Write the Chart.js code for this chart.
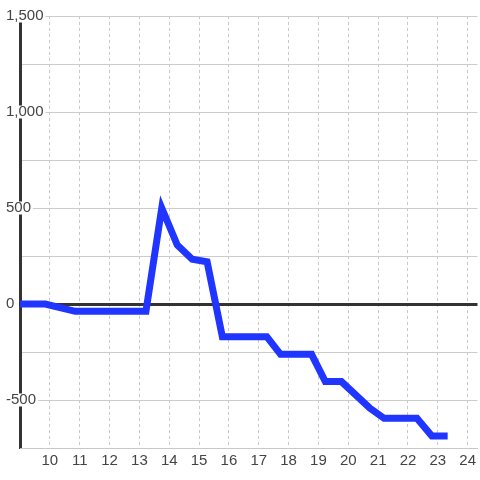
<!DOCTYPE html>
<html>
<head>
<meta charset="utf-8">
<script src="https://cdn.jsdelivr.net/npm/chart.js@4.4.0/dist/chart.umd.min.js"></script>
<style>
  html, body { margin: 0; padding: 0; background: #fff; }
  #wrap { width: 480px; height: 480px; position: relative; }
</style>
</head>
<body>
<div id="wrap"><canvas id="chart"></canvas></div>
<script>
// heures (décimales) et valeurs
const hours = [9, 9.85, 10.85, 13.22, 13.75, 14.27, 14.77, 15.27, 15.78, 17.27, 17.73, 18.77, 19.23, 19.77, 20.73, 21.2, 22.3, 22.8, 23.33];
const values = [0, 0, -38, -38, 500, 307, 233, 220, -170, -170, -262, -262, -404, -404, -543, -595, -595, -688, -688];

const xMin = 9;
const xMax = 24.33;
const yMin = -750;
const yMax = 1500;

const points = hours.map((h, i) => ({ x: h, y: values[i] }));

const fontFamily = '"Liberation Sans", Arial, sans-serif';

new Chart(document.getElementById('chart'), {
    type: 'line',
    data: {
        datasets: [{
            data: points,
            borderColor: '#2035ff',
            borderWidth: 7,
            pointRadius: 0,
            tension: 0,
            fill: false
        }]
    },
    options: {
        responsive: true,
        maintainAspectRatio: false,
        animation: false,
        layout: { padding: { top: 16, left: 6, right: 0, bottom: 6 } },
        plugins: {
            legend: { display: false },
            tooltip: { enabled: false }
        },
        scales: {
            x: {
                type: 'linear',
                min: xMin,
                max: xMax,
                grid: {
                    drawTicks: false,
                    lineWidth: 1,
                    color: (ctx) => (ctx.tick && ctx.tick.value === xMin ? 'rgba(0,0,0,0)' : '#c8c8c8')
                },
                border: { color: '#c8c8c8', width: 1, dash: [3, 3] },
                ticks: {
                    stepSize: 1,
                    includeBounds: false,
                    padding: 4,
                    color: '#444',
                    font: { family: fontFamily, size: 15, lineHeight: 1.2 },
                    maxRotation: 0,
                    autoSkip: false,
                    callback: (v) => (v === xMin ? '' : String(v))
                }
            },
            y: {
                min: yMin,
                max: yMax,
                afterFit: (scale) => { scale.width = 14; },
                grid: {
                    drawTicks: false,
                    color: (ctx) => (ctx.tick && ctx.tick.value === 0 ? '#333' : '#cccccc'),
                    lineWidth: (ctx) => (ctx.tick && ctx.tick.value === 0 ? 3 : 1)
                },
                border: { color: '#333', width: 3, z: -1 },
                ticks: {
                    stepSize: 250,
                    mirror: true,
                    padding: -14,
                    color: '#444',
                    font: { family: fontFamily, size: 15, lineHeight: 1 },
                    showLabelBackdrop: true,
                    backdropColor: (ctx) => (ctx.tick && ctx.tick.value % 500 === 0 ? '#fff' : 'rgba(0,0,0,0)'),
                    backdropPadding: { top: -1, bottom: -1, left: 2, right: 2 },
                    callback: (v) => (v % 500 === 0 ? v.toLocaleString('en-US') : '')
                }
            }
        }
    }
});
</script>
</body>
</html>
